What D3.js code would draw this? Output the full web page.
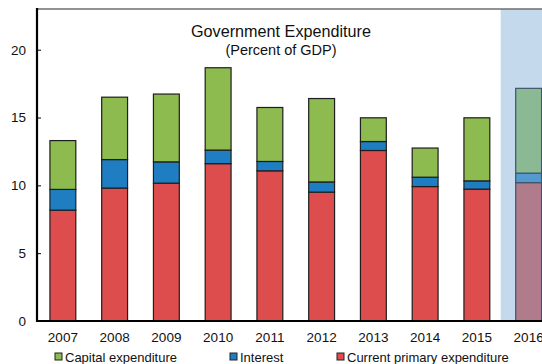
<!DOCTYPE html>
<html>
<head>
<meta charset="utf-8">
<script src="https://cdn.jsdelivr.net/npm/d3@7"></script>
<style>
  html, body { margin: 0; padding: 0; background: #fff; }
  svg { display: block; font-family: "Liberation Sans", Arial, sans-serif; }
</style>
</head>
<body>
<svg id="chart" width="542" height="364"></svg>
<script>
/* --- Data (percent of GDP) --- */
const years = ["2007", "2008", "2009", "2010", "2011", "2012", "2013", "2014", "2015", "2016"];
const currentPrimary = [8.17, 9.8, 10.16, 11.6, 11.07, 9.5, 12.57, 9.91, 9.72, 10.2];
const interest = [1.53, 2.1, 1.57, 1.0, 0.69, 0.75, 0.66, 0.69, 0.61, 0.7];
const capital = [3.6, 4.6, 5.0, 6.07, 3.98, 6.15, 1.75, 2.15, 4.65, 6.25];
const yTicks = [0, 5, 10, 15, 20];
const seriesNames = ["Capital expenditure", "Interest", "Current primary expenditure"];
const projectedYear = "2016";

/* --- Styles --- */
const COLORS = {
    capital: "#8dbb4f",
    interest: "#1f7ec2",
    current: "#de4d4d",
    shade: "#c5d9ec"
};
const SHADED = {
    capital: "#8ab994",
    interest: "#5499cf",
    current: "#b07c8c",
    stroke: "#3d566c"
};

const svg = d3.select("#chart");
const margin = { left: 37, top: 9, bottom: 321 };

const x = d3.scaleBand()
    .domain(years)
    .range([margin.left, margin.left + 10 * 51.75])
    .paddingInner(0.5)
    .paddingOuter(0.25);

const y = d3.scaleLinear()
    .domain([0, 23])
    .range([margin.bottom, margin.top]);

// stacked data: current primary at bottom, then interest, then capital
const table = years.map((yr, i) => ({
    year: yr, current: currentPrimary[i], interest: interest[i], capital: capital[i]
}));
const keys = ["current", "interest", "capital"];
const stacked = d3.stack().keys(keys)(table);

// projection shade
svg.append("rect")
    .attr("x", x(projectedYear) - 15)
    .attr("y", y(23))
    .attr("width", 60)
    .attr("height", y(0) - y(23))
    .attr("fill", COLORS.shade);

// top frame line
svg.append("line")
    .attr("x1", margin.left).attr("x2", 542)
    .attr("y1", y(23)).attr("y2", y(23))
    .attr("stroke", "#6e6e6e").attr("stroke-width", 1.6);

// bars
stacked.forEach(layer => {
    svg.append("g").selectAll("rect")
        .data(layer)
        .join("rect")
        .attr("x", d => x(d.data.year))
        .attr("y", d => y(d[1]))
        .attr("width", x.bandwidth())
        .attr("height", d => y(d[0]) - y(d[1]))
        .attr("fill", d => d.data.year === projectedYear ? SHADED[layer.key] : COLORS[layer.key])
        .attr("stroke", d => d.data.year === projectedYear ? SHADED.stroke : "#1e1e1e")
        .attr("stroke-width", 1.2);
});

// y axis
const yAxis = svg.append("g")
    .attr("transform", `translate(${margin.left},0)`)
    .call(d3.axisLeft(y).tickValues(yTicks).tickSize(-4).tickPadding(11));
yAxis.select(".domain").remove();
yAxis.selectAll(".tick line").attr("stroke", "#000").attr("stroke-width", 1);
yAxis.selectAll("text")
    .attr("fill", "#111")
    .style("font-size", "13.5px");

svg.append("line")
    .attr("x1", margin.left).attr("x2", margin.left)
    .attr("y1", y(23) - 1).attr("y2", y(0) + 1)
    .attr("stroke", "#000").attr("stroke-width", 2.2);

// x axis
const xAxis = svg.append("g")
    .attr("transform", `translate(0,${margin.bottom})`)
    .call(d3.axisBottom(x).tickSize(0).tickPadding(11));
xAxis.select(".domain").remove();
xAxis.selectAll("text")
    .attr("fill", "#111")
    .style("font-size", "13.5px");

svg.append("line")
    .attr("x1", margin.left - 1).attr("x2", 542)
    .attr("y1", y(0)).attr("y2", y(0))
    .attr("stroke", "#000").attr("stroke-width", 2.2);

// title
svg.append("text")
    .attr("x", 281).attr("y", 37)
    .attr("text-anchor", "middle")
    .style("font-size", "16.2px")
    .attr("fill", "#111")
    .text("Government Expenditure");
svg.append("text")
    .attr("x", 281).attr("y", 55)
    .attr("text-anchor", "middle")
    .style("font-size", "14.5px")
    .attr("fill", "#111")
    .text("(Percent of GDP)");

// legend
const legendX = [55, 230, 337];
const legendColors = [COLORS.capital, COLORS.interest, COLORS.current];
const legend = svg.append("g");
seriesNames.forEach((name, i) => {
    legend.append("rect")
        .attr("x", legendX[i]).attr("y", 353)
        .attr("width", 7).attr("height", 7)
        .attr("fill", legendColors[i])
        .attr("stroke", "#222").attr("stroke-width", 1);
    legend.append("text")
        .attr("x", legendX[i] + 10).attr("y", 362)
        .style("font-size", "13px")
        .attr("fill", "#111")
        .text(name);
});
</script>
</body>
</html>
